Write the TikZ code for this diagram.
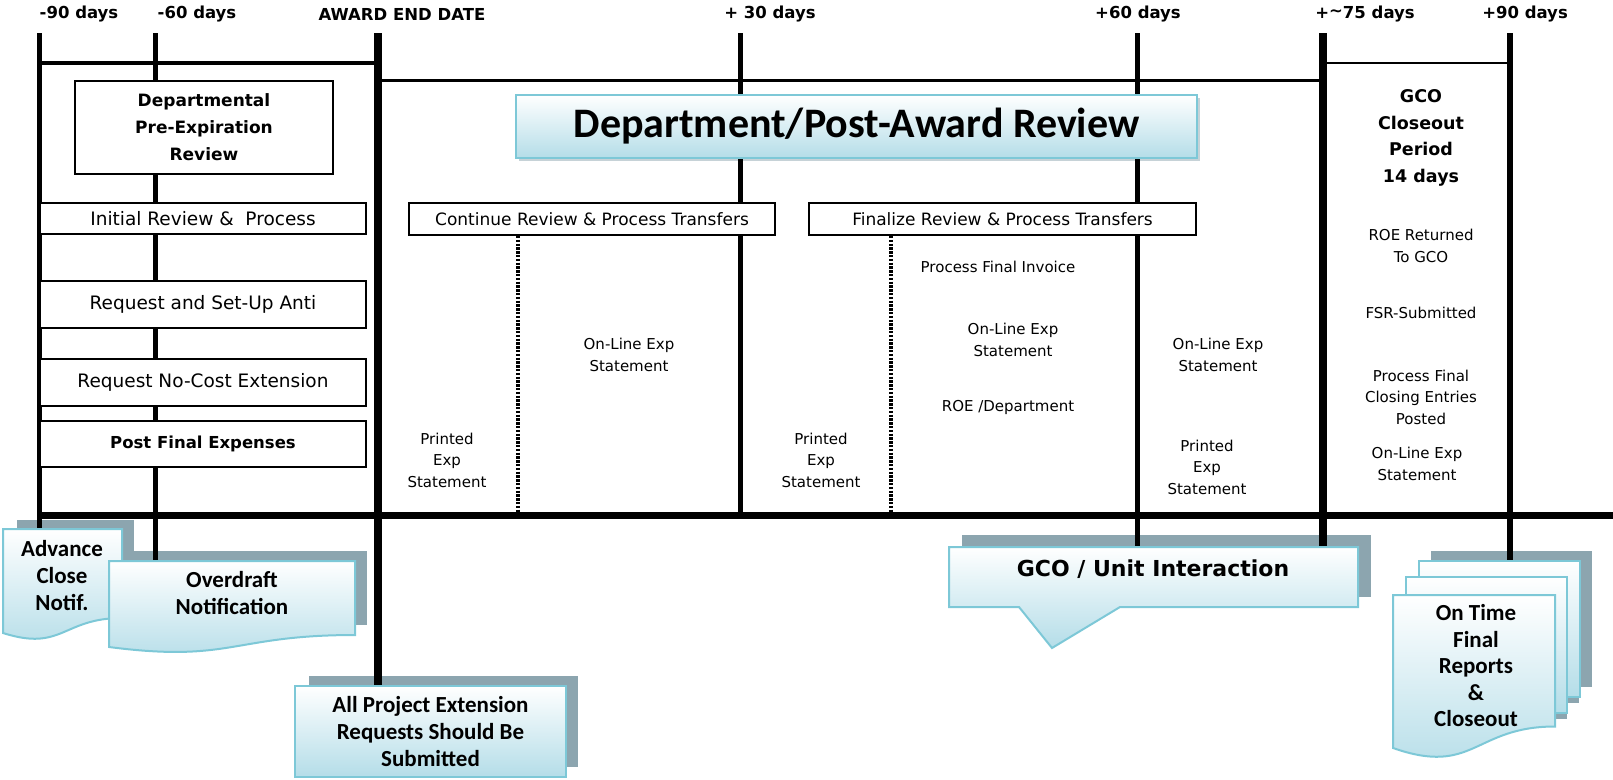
\documentclass[tikz,border=0pt]{standalone}
\usepackage{fontspec}
\setmainfont{DejaVu Sans}
\newfontfamily\calibrifont{Carlito}
\definecolor{paperedge}{HTML}{7DC8D7}
\definecolor{paperfill}{HTML}{B4DDE8}
\definecolor{papershadow}{HTML}{8CA5AF}

\begin{document}
\begin{tikzpicture}[x=1pt, y=-1pt, line join=miter]

		\tikzset{day label/.style={font=\bfseries\fontsize{16.5}{20}\selectfont},
		row box/.style={draw, line width=2pt, fill=white, inner sep=0pt, minimum width=326pt, font=\fontsize{18.5}{22}\selectfont},
		span box/.style={draw, line width=2pt, fill=white, inner sep=0pt, minimum height=32pt, font=\fontsize{17}{20}\selectfont},
		note/.style={align=center, font=\fontsize{15}{21.5}\selectfont},
		bold note/.style={align=center, font=\bfseries\fontsize{17.5}{26.7}\selectfont},
		callout text/.style={align=center, font=\calibrifont\bfseries\fontsize{23}{27}\selectfont},
		paper/.style={draw=paperedge, line width=2pt, top color=white, bottom color=paperfill},
		paper shadow/.style={fill=papershadow},
		dots/.style={line width=4pt, dash pattern=on 2.4pt off 1.4pt}}

		\useasboundingbox (0,0) rectangle (1613,779);

		\fill[paper shadow] (17,520) rectangle (134,600);
		\fill[paper shadow] (122,551) rectangle (367,625);
		\fill[paper shadow] (309,676) rectangle (578,767);
		\fill[paper shadow] (962,535) rectangle (1371,597);
		\fill[paper shadow] (1431,551) rectangle (1592,687);
		\fill[paper shadow] (1418,567) rectangle (1579,703);
		\fill[paper shadow] (1405,585) rectangle (1567,719);
		\fill[papershadow!50] (519,98) rectangle (1200,161);

		\draw[line width=3.5pt] (39,63)--(378,63);
		\draw[line width=3pt] (378,80)--(1323,80);
		\draw[line width=2pt] (1323,63)--(1510,63);
		\draw[line width=7pt] (37,515)--(1613,515);
		\foreach \x/\xl/\yend/\w/\txt in {39/79/529/5/{-90 days}, 155/197/561/5/{-60 days}, 378/402/686/8/{AWARD END DATE}, 740/770/515/5/{+ 30 days}, 1137/1138/547/5/{+60 days}, 1323/1365/547/8/{+\raisebox{2pt}{\textasciitilde}75 days}, 1510/1525/561/6/{+90 days}}
		{
		\draw[line width=\w pt] (\x,33) coordinate (tick\x) -- (\x,\yend) coordinate (foot\x);
		\node[day label] (day\x) at (\xl,14) {\txt};
		}

		\node[draw, line width=2pt, fill=white, minimum width=258pt, minimum height=93pt, align=center, font=\bfseries\fontsize{17}{27}\selectfont] (preexp) at (204,127.5) {Departmental\\Pre-Expiration\\Review};
		\node[row box, minimum height=31pt] (initial) at (203,218.5) {Initial Review \&~ Process};
		\node[row box, minimum height=47pt] (antiset) at (203,304.5) {Request and Set-Up Anti};
		\node[row box, minimum height=47pt] (nocost) at (203,382.5) {Request No-Cost Extension};
		\node[row box, minimum height=46pt, font=\bfseries\fontsize{16.5}{20}\selectfont] (postfinal) at (203,444) {Post Final Expenses};

		\node[paper, minimum width=681pt, minimum height=63pt, font=\calibrifont\bfseries\fontsize{42}{48}\selectfont] (postaward) at (856.5,126.5) {Department/Post-Award Review};
		\node[span box, minimum width=366pt] (continue) at (592,219) {Continue Review \& Process Transfers};
		\node[span box, minimum width=387pt] (finalize) at (1002.5,219) {Finalize Review \& Process Transfers};
		\draw[dots] (518,236)--(518,512);
		\draw[dots] (891,236)--(891,512);

		\node[note] (printedA) at (447,460) {Printed\\Exp\\Statement};
		\node[note] (onlineA) at (629,355) {On-Line Exp\\Statement};
		\node[note] (printedB) at (821,460) {Printed\\Exp\\Statement};
		\node[note] (invoice) at (998,267) {Process Final Invoice};
		\node[note] (onlineB) at (1013,340) {On-Line Exp\\Statement};
		\node[note] (roedept) at (1008,407) {ROE /Department};
		\node[note] (onlineC) at (1218,355) {On-Line Exp\\Statement};
		\node[note] (printedC) at (1207,467) {Printed\\Exp\\Statement};

		\node[bold note] (closeout) at (1421,138) {GCO\\Closeout\\Period\\14 days};
		\node[note] (roegco) at (1421,246) {ROE Returned\\To GCO};
		\node[note] (fsr) at (1421,313) {FSR-Submitted};
		\node[note] (closing) at (1421,397) {Process Final\\Closing Entries\\Posted};
		\node[note] (onlineD) at (1417,464) {On-Line Exp\\Statement};

		\path[paper] (3,529) -- (122,529) -- (122,618) .. controls (62.5,618) and (62.5,652) .. (3,633) -- cycle;
		\node[callout text] (advance) at (62,576) {Advance\\Close\\Notif.};
		\path[paper] (109,561) -- (355,561) -- (355,635) .. controls (232,635) and (232,663) .. (109,647) -- cycle;
		\node[callout text] (overdraft) at (232,593.5) {Overdraft\\Notification};
		\node[paper, minimum width=271pt, minimum height=91pt, callout text] (allproject) at (430.5,731.5) {All Project Extension\\Requests Should Be\\Submitted};

		\path[paper] (949,547) -- (1358,547) -- (1358,607) -- (1120,607) -- (1052,648) -- (1019,607) -- (949,607) -- cycle;
		\node[font=\bfseries\fontsize{22}{26}\selectfont] (unit) at (1153,569) {GCO / Unit Interaction};

		\path[paper] (1419,561) rectangle (1580,697);
		\path[paper] (1406,577) rectangle (1567,713);
		\path[paper] (1393,595) -- (1555,595) -- (1555,726.5) .. controls (1474,726.5) and (1474,776.5) .. (1393,748) -- cycle;
		\node[callout text, font=\calibrifont\bfseries\fontsize{23}{26.5}\selectfont] (ontime) at (1476,666) {On Time\\Final\\Reports\\\&\\Closeout};
		\end{tikzpicture}
\end{document}
